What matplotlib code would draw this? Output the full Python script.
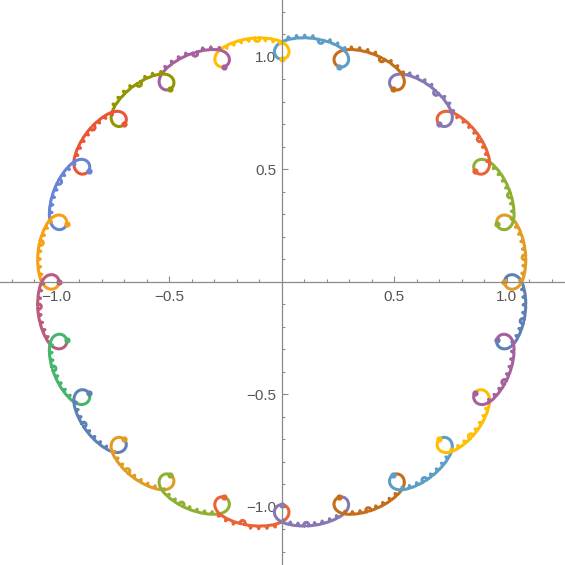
import numpy as np
import matplotlib
matplotlib.use('Agg')
import matplotlib.pyplot as plt

# Mathematica default palette (ColorData 97), it cycles every 15 curves
palette = ['#5E81B5', '#E19C24', '#8FB032', '#EB6235', '#8778B3',
           '#C56E1A', '#5D9EC7', '#FFBF00', '#A5609D', '#929600',
           '#E95536', '#6685D9', '#F89F13', '#BC5B80', '#47B66D']

n_seg = 24               # curls round the circle, one curve between two curls
first_curl_deg = -15.0   # segment 0 starts in the curl at this angle
curl_bottom_r = 0.99     # radius of the innermost point of each curl
arch_turn_deg = 85.0     # how much each arch between two curls bends
curl_len = 0.34          # share of a segment spent going round a curl
curl_edge = 0.04

# small ticks on every arch (position as fraction of a segment)
tick_pos = [0.22, 0.29, 0.36, 0.51, 0.58, 0.65, 0.72]
tick_h = 0.012
tick_span = 0.018
# which way the ticks of each segment point: +1 inward, -1 outward
tick_side = [1, 1, 1, 1, -1, -1, -1, 1, -1, -1, 1, 1,
             1, 1, 1, 1, 1, 1, -1, 1, 1, 1, 1, 1]
# one bigger dot (a tight little loop) on each arch, pointing inward
dot_pos = 0.435
dot_r = 0.008
dot_span = 0.02

ax_major = [-1.0, -0.5, 0.5, 1.0]
ax_labels = ['\u22121.0', '\u22120.5', '0.5', '1.0']
ax_minor = [-1.2, -1.1, -0.9, -0.8, -0.7, -0.6, -0.4, -0.3, -0.2, -0.1,
            0.1, 0.2, 0.3, 0.4, 0.6, 0.7, 0.8, 0.9, 1.1, 1.2]


def soft_box_integral(x, length, edge):
    # runs from 0 to 1 across a box of width `length` centred on 0
    h = length / 2
    return edge * (np.logaddexp(0, (x + h) / edge)
                   - np.logaddexp(0, (x - h) / edge)) / length


## 1. smooth curve from its turning angle ###
per = 3000
s = np.arange(n_seg * per + 1) / per
arch_turn = np.deg2rad(arch_turn_deg)
curl_turn = 2 * np.pi * (1 + 1 / n_seg) - arch_turn
psi = arch_turn * s
for k in range(-2, n_seg + 3):
    psi += curl_turn * soft_box_integral(s - k, curl_len, curl_edge)
z = np.concatenate([[0], np.cumsum(np.exp(1j * psi[:-1]))]) / per

## 2. centre, size and turn it so the curls sit where they should ###
v = z[::per][:n_seg]
c = v.mean()
w0 = v[0] - c
rot = np.exp(1j * (np.deg2rad(first_curl_deg) - np.angle(w0)))
z = (z - c) * curl_bottom_r / abs(w0) * rot
tang = np.exp(1j * psi) * rot
norm = 1j * tang   # points inward

## 3. ticks and dots along the arches ###
for k in range(n_seg):
    for p in tick_pos:
        u = (s - (k + p)) / tick_span + 0.5
        m = (u > 0) & (u < 1)
        z[m] += tick_side[k] * tick_h * norm[m] * np.sin(np.pi * u[m]) ** 2
    u = (s - (k + dot_pos)) / dot_span + 0.5
    m = (u > 0) & (u < 1)
    th = 2 * np.pi * u[m]
    z[m] += dot_r * (-tang[m] * np.sin(th) + norm[m] * (1 - np.cos(th)))

fig = plt.figure(figsize=(5.65, 5.65), dpi=100)
ax = fig.add_axes([0, 0, 1, 1])

for k in range(n_seg):
    seg = z[k * per:(k + 1) * per + 1]
    col = palette[k % len(palette)]
    ax.plot(seg.real, seg.imag, color=col, lw=2.2, solid_capstyle='round')
    ax.plot(seg.real[0], seg.imag[0], 'o', color=col, ms=4.5, mew=0)

ax.set_xlim(-1.252, 1.259)
ax.set_ylim(-1.258, 1.253)

axis_col = '#8a8a8a'
for side in ['top', 'right']:
    ax.spines[side].set_visible(False)
for side in ['left', 'bottom']:
    ax.spines[side].set_position(('data', 0))
    ax.spines[side].set_color(axis_col)
    ax.spines[side].set_linewidth(0.9)

ax.set_xticks(ax_major)
ax.set_xticklabels(ax_labels)
ax.set_yticks(ax_major)
ax.set_yticklabels(ax_labels)
ax.set_xticks(ax_minor, minor=True)
ax.set_yticks(ax_minor, minor=True)
ax.tick_params(which='both', direction='in', color=axis_col, width=0.8,
               labelcolor='#555555', labelsize=11)
ax.tick_params(which='major', length=4.5)
ax.tick_params(which='minor', length=2.5)
ax.tick_params(axis='x', pad=6)
ax.tick_params(axis='y', pad=4)
for lab in ax.get_xticklabels() + ax.get_yticklabels():
    lab.set_family('Liberation Sans')
ax.patch.set_visible(False)

fig.savefig('out.png', dpi=100)
